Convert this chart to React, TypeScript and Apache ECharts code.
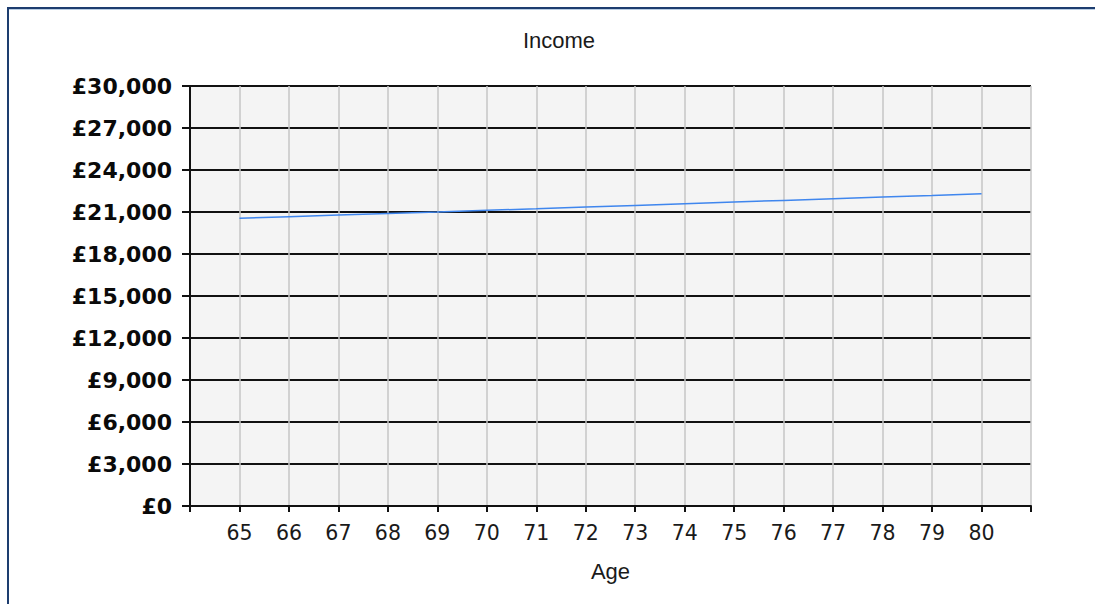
import React, { useEffect, useRef } from "react";
import * as echarts from "echarts";

const ages = [65, 66, 67, 68, 69, 70, 71, 72, 73, 74, 75, 76, 77, 78, 79, 80];
const income = [20550, 20660, 20780, 20890, 21000, 21120, 21230, 21350, 21470, 21590, 21710, 21830, 21950, 22070, 22180, 22300];
const yTicks = [0, 3000, 6000, 9000, 12000, 15000, 18000, 21000, 24000, 27000, 30000];
const titleText = "Income";
const xName = "Age";

export default function App() {
  const ref = useRef<HTMLDivElement>(null);
  useEffect(() => {
    if (!ref.current) return;
    const chart = echarts.init(ref.current, undefined, { renderer: "svg" });
    const data = ages.map((a, i) => [a, income[i]]);
    chart.setOption({
      animation: false,
      backgroundColor: "#ffffff",
      title: {
        text: titleText,
        left: 554,
        top: 24,
        textAlign: "center",
        textStyle: { fontFamily: "Liberation Sans", fontSize: 22, fontWeight: "normal", color: "#1a1a1a" },
      },
      graphic: [
        { type: "line", shape: { x1: 7, y1: 8, x2: 1095, y2: 8 }, style: { stroke: "#1d3d6f", lineWidth: 2 } },
        { type: "line", shape: { x1: 8, y1: 7, x2: 8, y2: 604 }, style: { stroke: "#1d3d6f", lineWidth: 2 } },
        { type: "line", shape: { x1: 9, y1: 9.5, x2: 1095, y2: 9.5 }, style: { stroke: "#b9cde3", lineWidth: 1 } },
      ],
      grid: {
        left: 190,
        right: 64,
        top: 86,
        bottom: 98,
        show: true,
        backgroundColor: "#f4f4f4",
        borderWidth: 0,
      },
      xAxis: {
        type: "value",
        min: 64,
        max: 81,
        interval: 1,
        name: xName,
        nameLocation: "middle",
        nameGap: 54,
        nameTextStyle: { fontFamily: "Liberation Sans", fontSize: 22, color: "#1a1a1a" },
        axisLine: { show: true, lineStyle: { color: "#111111", width: 2 } },
        axisTick: { show: true, length: 6, lineStyle: { color: "#111111", width: 2 } },
        axisLabel: {
          margin: 16,
          fontFamily: "DejaVu Sans",
          fontSize: 20.5,
          color: "#1a1a1a",
          formatter: (v: number) => (v >= ages[0] && v <= ages[ages.length - 1] ? String(v) : ""),
        },
        splitLine: { show: true, lineStyle: { color: "#c6c6c6", width: 1.5 } },
      },
      yAxis: {
        type: "value",
        min: yTicks[0],
        max: yTicks[yTicks.length - 1],
        interval: yTicks[1] - yTicks[0],
        axisLine: { show: true, lineStyle: { color: "#111111", width: 2 } },
        axisTick: { show: true, length: 8, lineStyle: { color: "#111111", width: 2 } },
        axisLabel: {
          margin: 18,
          fontFamily: "DejaVu Sans",
          fontWeight: "bold",
          fontSize: 22,
          color: "#0a0a0a",
          formatter: (v: number) => "£" + v.toLocaleString("en-GB"),
        },
        splitLine: { show: true, lineStyle: { color: "#111111", width: 2 } },
      },
      series: [
        {
          type: "line",
          data,
          showSymbol: false,
          symbol: "none",
          lineStyle: { color: "#3f86ee", width: 1.5 },
          z: 5,
        },
      ],
    });
    return () => chart.dispose();
  }, []);
  return <div ref={ref} style={{ position: "fixed", left: 0, top: 0, width: 1095, height: 604 }} />;
}
